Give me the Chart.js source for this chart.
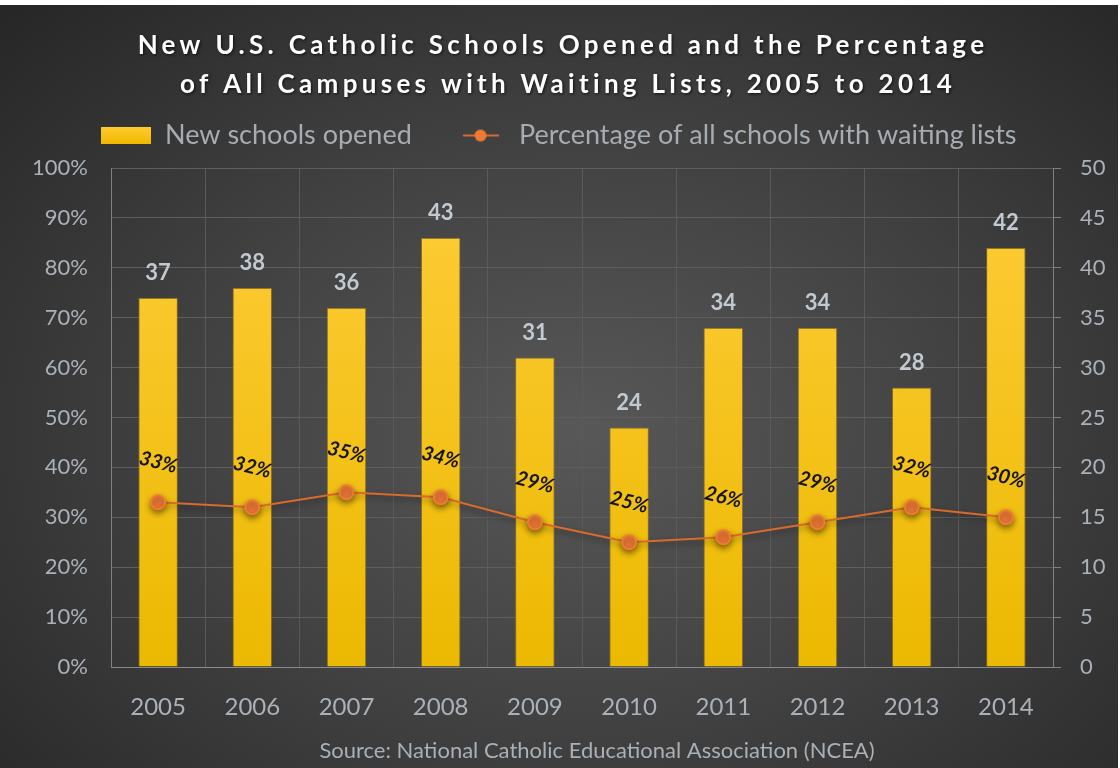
<!DOCTYPE html>
<html>
<head>
<meta charset="utf-8">
<script src="https://cdn.jsdelivr.net/npm/chart.js@4.4.1/dist/chart.umd.min.js"></script>
<style>
html, body { margin: 0; padding: 0; background: #fff; }
#wrap {
    position: absolute; left: 0; top: 5px; width: 1118px; height: 763px;
    background: radial-gradient(ellipse 72% 78% at 52% 56%, #585858 0%, #414141 50%, #272727 100%);
}
</style>
</head>
<body>
<div id="wrap"><canvas id="chart"></canvas></div>
<script>
const years = ['2005', '2006', '2007', '2008', '2009', '2010', '2011', '2012', '2013', '2014'];
const newSchools = [37, 38, 36, 43, 31, 24, 34, 34, 28, 42];
const waitingPct = [33, 32, 35, 34, 29, 25, 26, 29, 32, 30];
const titleLines = ['New U.S. Catholic Schools Opened and the Percentage', 'of All Campuses with Waiting Lists, 2005 to 2014'];
const sourceText = 'Source: National Catholic Educational Association (NCEA)';

const ORANGE = '#ee7a36';
const AXIS_TEXT = '#aab1b8';

// legend swatches
function barSwatch() {
    const c = document.createElement('canvas');
    c.width = 50; c.height = 17;
    const x = c.getContext('2d');
    const g = x.createLinearGradient(0, 0, 0, 17);
    g.addColorStop(0, '#ffcb2e');
    g.addColorStop(1, '#f0b800');
    x.fillStyle = g;
    x.fillRect(0, 0, 50, 17);
    return c;
}
function lineSwatch() {
    const c = document.createElement('canvas');
    c.width = 36; c.height = 16;
    const x = c.getContext('2d');
    x.strokeStyle = '#d96a2b';
    x.lineWidth = 2;
    x.beginPath(); x.moveTo(0, 8); x.lineTo(36, 8); x.stroke();
    x.fillStyle = ORANGE;
    x.beginPath(); x.arc(18, 8, 6, 0, Math.PI * 2); x.fill();
    return c;
}

// a bit more room between legend and plot
const legendGap = {
    id: 'legendGap',
    afterInit(chart) {
        const lg = chart.legend;
        if (!lg) return;
        const fit = lg.fit;
        lg.fit = function () {
            fit.call(this);
            this.height += 9;
        };
    }
};

const textPlugin = {
    id: 'textPlugin',
    afterDraw(chart) {
        const c = chart.ctx;
        c.save();
        c.textAlign = 'center';
        c.textBaseline = 'middle';
        c.font = 'bold 26px Lato';
        c.letterSpacing = '4.3px';
        c.shadowColor = 'rgba(0,0,0,0.7)';
        c.shadowBlur = 3;
        c.shadowOffsetX = 1; c.shadowOffsetY = 1;
        c.fillStyle = '#ffffff';
        c.fillText(titleLines[0], 563, 41);
        c.fillText(titleLines[1], 568, 80);
        c.restore();

        c.save();
        c.textAlign = 'center';
        c.textBaseline = 'middle';
        c.font = '22px Lato';
        c.fillStyle = '#a9b0b6';
        c.fillText(sourceText, 597, 746);
        c.restore();
    }
};

const valueLabels = {
    id: 'valueLabels',
    afterDatasetsDraw(chart) {
        const c = chart.ctx;
        c.save();
        c.textAlign = 'center';
        c.textBaseline = 'middle';
        c.font = 'bold 22px Lato';
        c.fillStyle = '#c2c9d0';
        chart.getDatasetMeta(0).data.forEach((b, i) => c.fillText(newSchools[i], b.x, b.y - 25));
        c.font = 'italic bold 20px Lato';
        c.fillStyle = '#151515';
        chart.getDatasetMeta(1).data.forEach((p, i) => {
            c.save();
            c.translate(p.x, p.y - 40);
            c.rotate(14 * Math.PI / 180);
            c.fillText(waitingPct[i] + '%', 0, 0);
            c.restore();
        });
        c.restore();
    }
};

const pointShadow = {
    id: 'pointShadow',
    beforeDatasetDraw(chart, args) {
        if (args.index !== 1) return;
        const c = chart.ctx;
        c.save();
        c.shadowColor = 'rgba(0,0,0,0.45)';
        c.shadowBlur = 6;
        c.shadowOffsetY = 3;
    },
    afterDatasetDraw(chart, args) {
        if (args.index !== 1) return;
        chart.ctx.restore();
    }
};

const chart = new Chart(document.getElementById('chart'), {
    type: 'bar',
    data: {
        labels: years,
        datasets: [{
            label: 'New schools opened',
            data: newSchools,
            yAxisID: 'y1',
            order: 2,
            backgroundColor: ctx => {
                const area = ctx.chart.chartArea;
                if (!area) return '#fcc000';
                const g = ctx.chart.ctx.createLinearGradient(0, area.top, 0, area.bottom);
                g.addColorStop(0, '#ffcd3a');
                g.addColorStop(1, '#ebb900');
                return g;
            },
            borderColor: 'rgba(200,140,0,0.5)',
            borderWidth: 1,
            barPercentage: 0.42,
            categoryPercentage: 1
        }, {
            type: 'line',
            label: 'Percentage of all schools with waiting lists',
            data: waitingPct,
            yAxisID: 'y',
            order: 1,
            borderColor: '#d96a2b',
            borderWidth: 2,
            backgroundColor: ORANGE,
            pointBackgroundColor: ORANGE,
            pointBorderColor: ORANGE,
            pointRadius: 7,
            tension: 0
        }]
    },
    options: {
        responsive: true,
        maintainAspectRatio: false,
        animation: false,
        layout: { padding: { top: 94, left: 0, right: 0, bottom: 0 } },
        plugins: {
            tooltip: { enabled: false },
            legend: {
                position: 'top',
                labels: {
                    color: '#a6acb2',
                    font: { family: 'Lato', size: 27 },
                    usePointStyle: true,
                    pointStyleWidth: 50,
                    padding: 23,
                    generateLabels: c => [
                        { text: 'New schools opened\u00a0\u00a0\u00a0', pointStyle: barSwatch(), fontColor: '#a6acb2', datasetIndex: 0, lineWidth: 0 },
                        { text: 'Percentage of all schools with waiting lists', pointStyle: lineSwatch(), fontColor: '#a6acb2', datasetIndex: 1, lineWidth: 0 }
                    ]
                }
            }
        },
        scales: {
            x: {
                afterFit: s => { s.height = 101; },
                grid: { color: '#5a5a5a', drawTicks: false },
                border: { color: '#8a8a8a' },
                ticks: { color: AXIS_TEXT, font: { family: 'Lato', size: 24 }, padding: 26 }
            },
            y: {
                position: 'left',
                min: 0, max: 100,
                afterFit: s => { s.width = 111; },
                ticks: { stepSize: 10, color: AXIS_TEXT, font: { family: 'Lato', size: 22 }, padding: 23, callback: v => v + '%' },
                grid: { color: '#5e5e5e', drawTicks: false },
                border: { color: '#808080' }
            },
            y1: {
                position: 'right',
                min: 0, max: 50,
                afterFit: s => { s.width = 65; },
                ticks: { stepSize: 5, color: AXIS_TEXT, font: { family: 'Lato', size: 22 }, padding: 19 },
                grid: { drawOnChartArea: false, color: '#808080', tickLength: 8 },
                border: { color: '#808080' }
            }
        }
    },
    plugins: [legendGap, pointShadow, valueLabels, textPlugin]
});
</script>
</body>
</html>
